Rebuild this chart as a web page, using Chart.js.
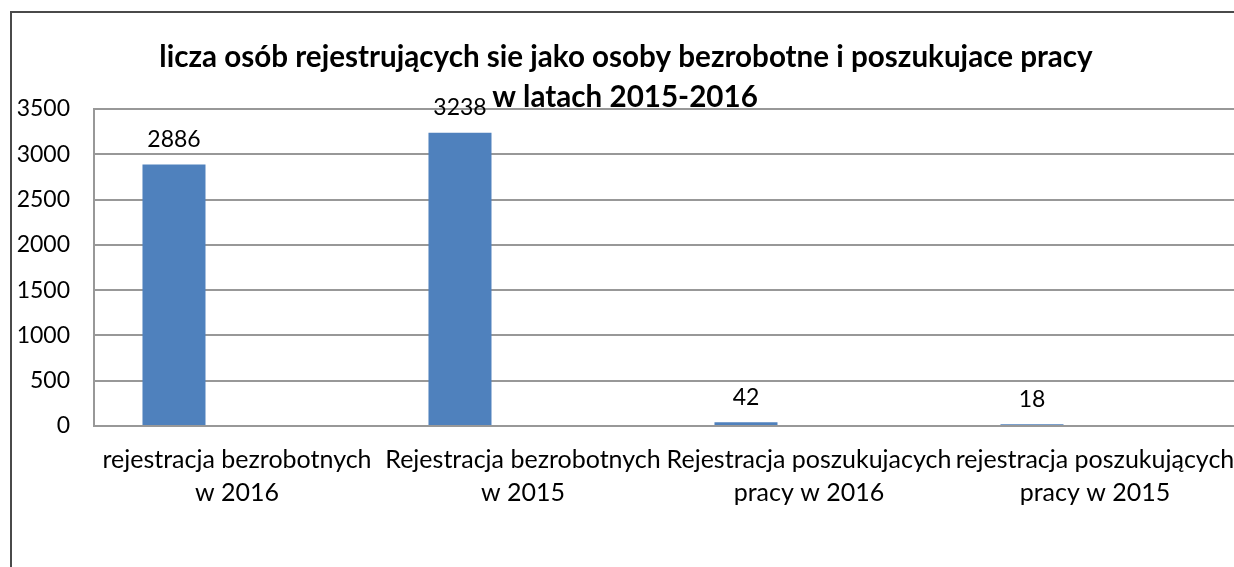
<!DOCTYPE html>
<html><head><meta charset="utf-8">
<script src="https://cdn.jsdelivr.net/npm/chart.js@4.4.1/dist/chart.umd.min.js"></script>
<style>
html,body{margin:0;padding:0;background:#fff;overflow:hidden;width:1234px;height:567px;}
#wrap{position:absolute;left:0;top:0;width:1238px;height:567px;}
#frame{position:absolute;left:10px;top:11px;width:1300px;height:700px;border-left:2px solid #4a4a4a;border-top:2px solid #4a4a4a;pointer-events:none;}
</style></head>
<body>
<div id="wrap"><canvas id="c" width="1238" height="567"></canvas></div>
<div id="frame"></div>
<script>
const TITLE = ['licza osób rejestrujących sie jako osoby bezrobotne i poszukujace pracy', 'w latach 2015-2016'];
const CATEGORIES = [
  ['rejestracja bezrobotnych', 'w 2016'],
  ['Rejestracja bezrobotnych', 'w 2015'],
  ['Rejestracja poszukujacych', 'pracy w 2016'],
  ['rejestracja poszukujących', 'pracy w 2015']
];
const VALUES = [2886, 3238, 42, 18];
const Y_TICKS = [0, 500, 1000, 1500, 2000, 2500, 3000, 3500];
const FONT = 'Lato, "Open Sans", sans-serif';

const titlePlugin = {
  id: 'customTitle',
  afterDraw(chart) {
    const ctx = chart.ctx;
    ctx.save();
    ctx.fillStyle = '#000';
    ctx.font = 'bold 29.6px ' + FONT;
    ctx.textAlign = 'center';
    ctx.textBaseline = 'middle';
    ctx.fillText(TITLE[0], 626, 57);
    ctx.fillText(TITLE[1], 625, 97);
    ctx.restore();
  }
};
const valueLabels = {
  id: 'valueLabels',
  afterDatasetsDraw(chart) {
    const ctx = chart.ctx;
    const meta = chart.getDatasetMeta(0);
    ctx.save();
    ctx.fillStyle = '#000';
    ctx.font = '23px ' + FONT;
    ctx.textAlign = 'center';
    ctx.textBaseline = 'middle';
    meta.data.forEach((bar, i) => {
      ctx.fillText(String(VALUES[i]), bar.x, bar.y - 25);
    });
    ctx.restore();
  }
};

new Chart(document.getElementById('c'), {
  type: 'bar',
  data: {
    labels: CATEGORIES,
    datasets: [
      { data: VALUES, backgroundColor: '#4F81BD', borderWidth: 0 },
      { data: VALUES.map(() => null), backgroundColor: '#C0504D' },
      { data: VALUES.map(() => null), backgroundColor: '#9BBB59' }
    ]
  },
  options: {
    responsive: false,
    animation: false,
    layout: { padding: { top: 109, left: 0, right: 0, bottom: 0 } },
    plugins: { legend: { display: false }, title: { display: false }, tooltip: { enabled: false } },
    datasets: { bar: { categoryPercentage: 0.661, barPercentage: 1.0 } },
    scales: {
      x: {
        grid: { display: false, drawTicks: false },
        border: { display: true, color: '#989898', width: 2 },
        ticks: { color: '#000', font: { family: FONT, size: 25, lineHeight: 1.3 }, padding: 18, maxRotation: 0, autoSkip: false },
        afterFit(s) { s.height = 141; s.paddingLeft = 0; s.paddingRight = 0; }
      },
      y: {
        min: 0, max: 3500,
        afterBuildTicks(s) { s.ticks = Y_TICKS.map(v => ({ value: v })); },
        grid: { color: '#989898', lineWidth: 2, drawTicks: false },
        border: { display: true, color: '#989898', width: 2 },
        ticks: { color: '#000', font: { family: FONT, size: 23 }, padding: 24, callback: (v) => String(v) },
        afterFit(s) { s.width = 94; s.paddingTop = 0; s.paddingBottom = 0; }
      }
    }
  },
  plugins: [titlePlugin, valueLabels]
});
</script>
</body></html>
